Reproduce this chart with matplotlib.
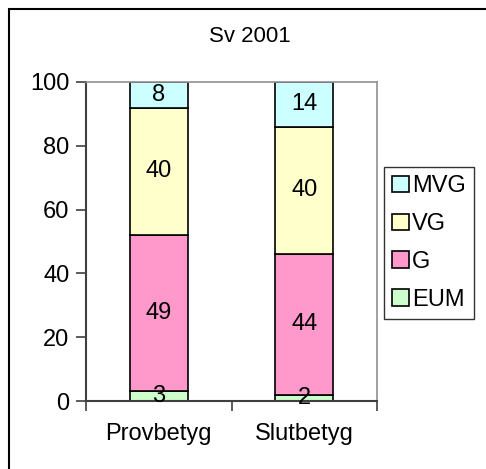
import matplotlib
matplotlib.use("Agg")
import matplotlib.pyplot as plt
from matplotlib.patches import Rectangle, Patch

plt.rcParams['font.family'] = ['Liberation Sans', 'DejaVu Sans']

categories = ["Provbetyg", "Slutbetyg"]
series_names = ["EUM", "G", "VG", "MVG"]
EUM = [3, 2]
G = [49, 44]
VG = [40, 40]
MVG = [8, 14]
colors = {"EUM": "#CCFFCC", "G": "#FF99CC", "VG": "#FFFFCC", "MVG": "#CCFFFF"}
yticks = [0, 20, 40, 60, 80, 100]

W, H = 486, 469
FS = 17
fig = plt.figure(figsize=(W / 100, H / 100), dpi=100)
fig.patch.set_facecolor("white")

# outer chart frame (extends beyond right/bottom edge)
fig.patches.append(Rectangle((9 / W, -0.1), 1.2, 1 - 9 / H + 0.1, transform=fig.transFigure,
                             fill=False, edgecolor="black", linewidth=1.5))

ax = fig.add_axes([86 / W, 1 - 401 / H, (377 - 86) / W, (401 - 82) / H])

x = list(range(len(categories)))
bottom = [0] * len(categories)
for name, vals in zip(series_names, [EUM, G, VG, MVG]):
    ax.bar(x, vals, width=0.4, bottom=bottom, color=colors[name],
           edgecolor="black", linewidth=1.2, zorder=2)
    for xi, v, b in zip(x, vals, bottom):
        ax.text(xi, b + v / 2, str(v), ha="center", va="center", fontsize=FS, zorder=3)
    bottom = [b + v for b, v in zip(bottom, vals)]

ax.set_xlim(-0.5, 1.5)
ax.set_ylim(0, 100)
ax.set_yticks(yticks)
ax.set_yticklabels([str(t) for t in yticks], fontsize=FS)
ax.set_xticks(x)
ax.set_xticklabels(categories, fontsize=FS)
ax.set_xticks([-0.5, 0.5, 1.5], minor=True)
ax.tick_params(axis="x", which="major", length=0, pad=16)
ax.tick_params(axis="x", which="minor", length=7, width=1.2, color="#404040")
ax.tick_params(axis="y", length=7, width=1.2, color="#404040", pad=5)

for s in ["top", "right"]:
    ax.spines[s].set_color("#909090")
    ax.spines[s].set_linewidth(1.2)
for s in ["left", "bottom"]:
    ax.spines[s].set_color("#404040")
    ax.spines[s].set_linewidth(1.5)

fig.text(250 / W, 1 - 37 / H, "Sv 2001", ha="center", va="center", fontsize=16)

leg_handles = [Patch(facecolor=colors[n], edgecolor="black", linewidth=1.2) for n in series_names[::-1]]
leg = fig.legend(leg_handles, series_names[::-1], loc="upper left",
                 bbox_to_anchor=(384 / W, 1 - 167 / H), fontsize=FS,
                 frameon=True, fancybox=False, edgecolor="black",
                 handlelength=0.7, handleheight=0.7, handletextpad=0.15,
                 labelspacing=0.67, borderpad=0.35, borderaxespad=0)
leg.get_frame().set_linewidth(1.0)

fig.savefig("out.png", dpi=100)
